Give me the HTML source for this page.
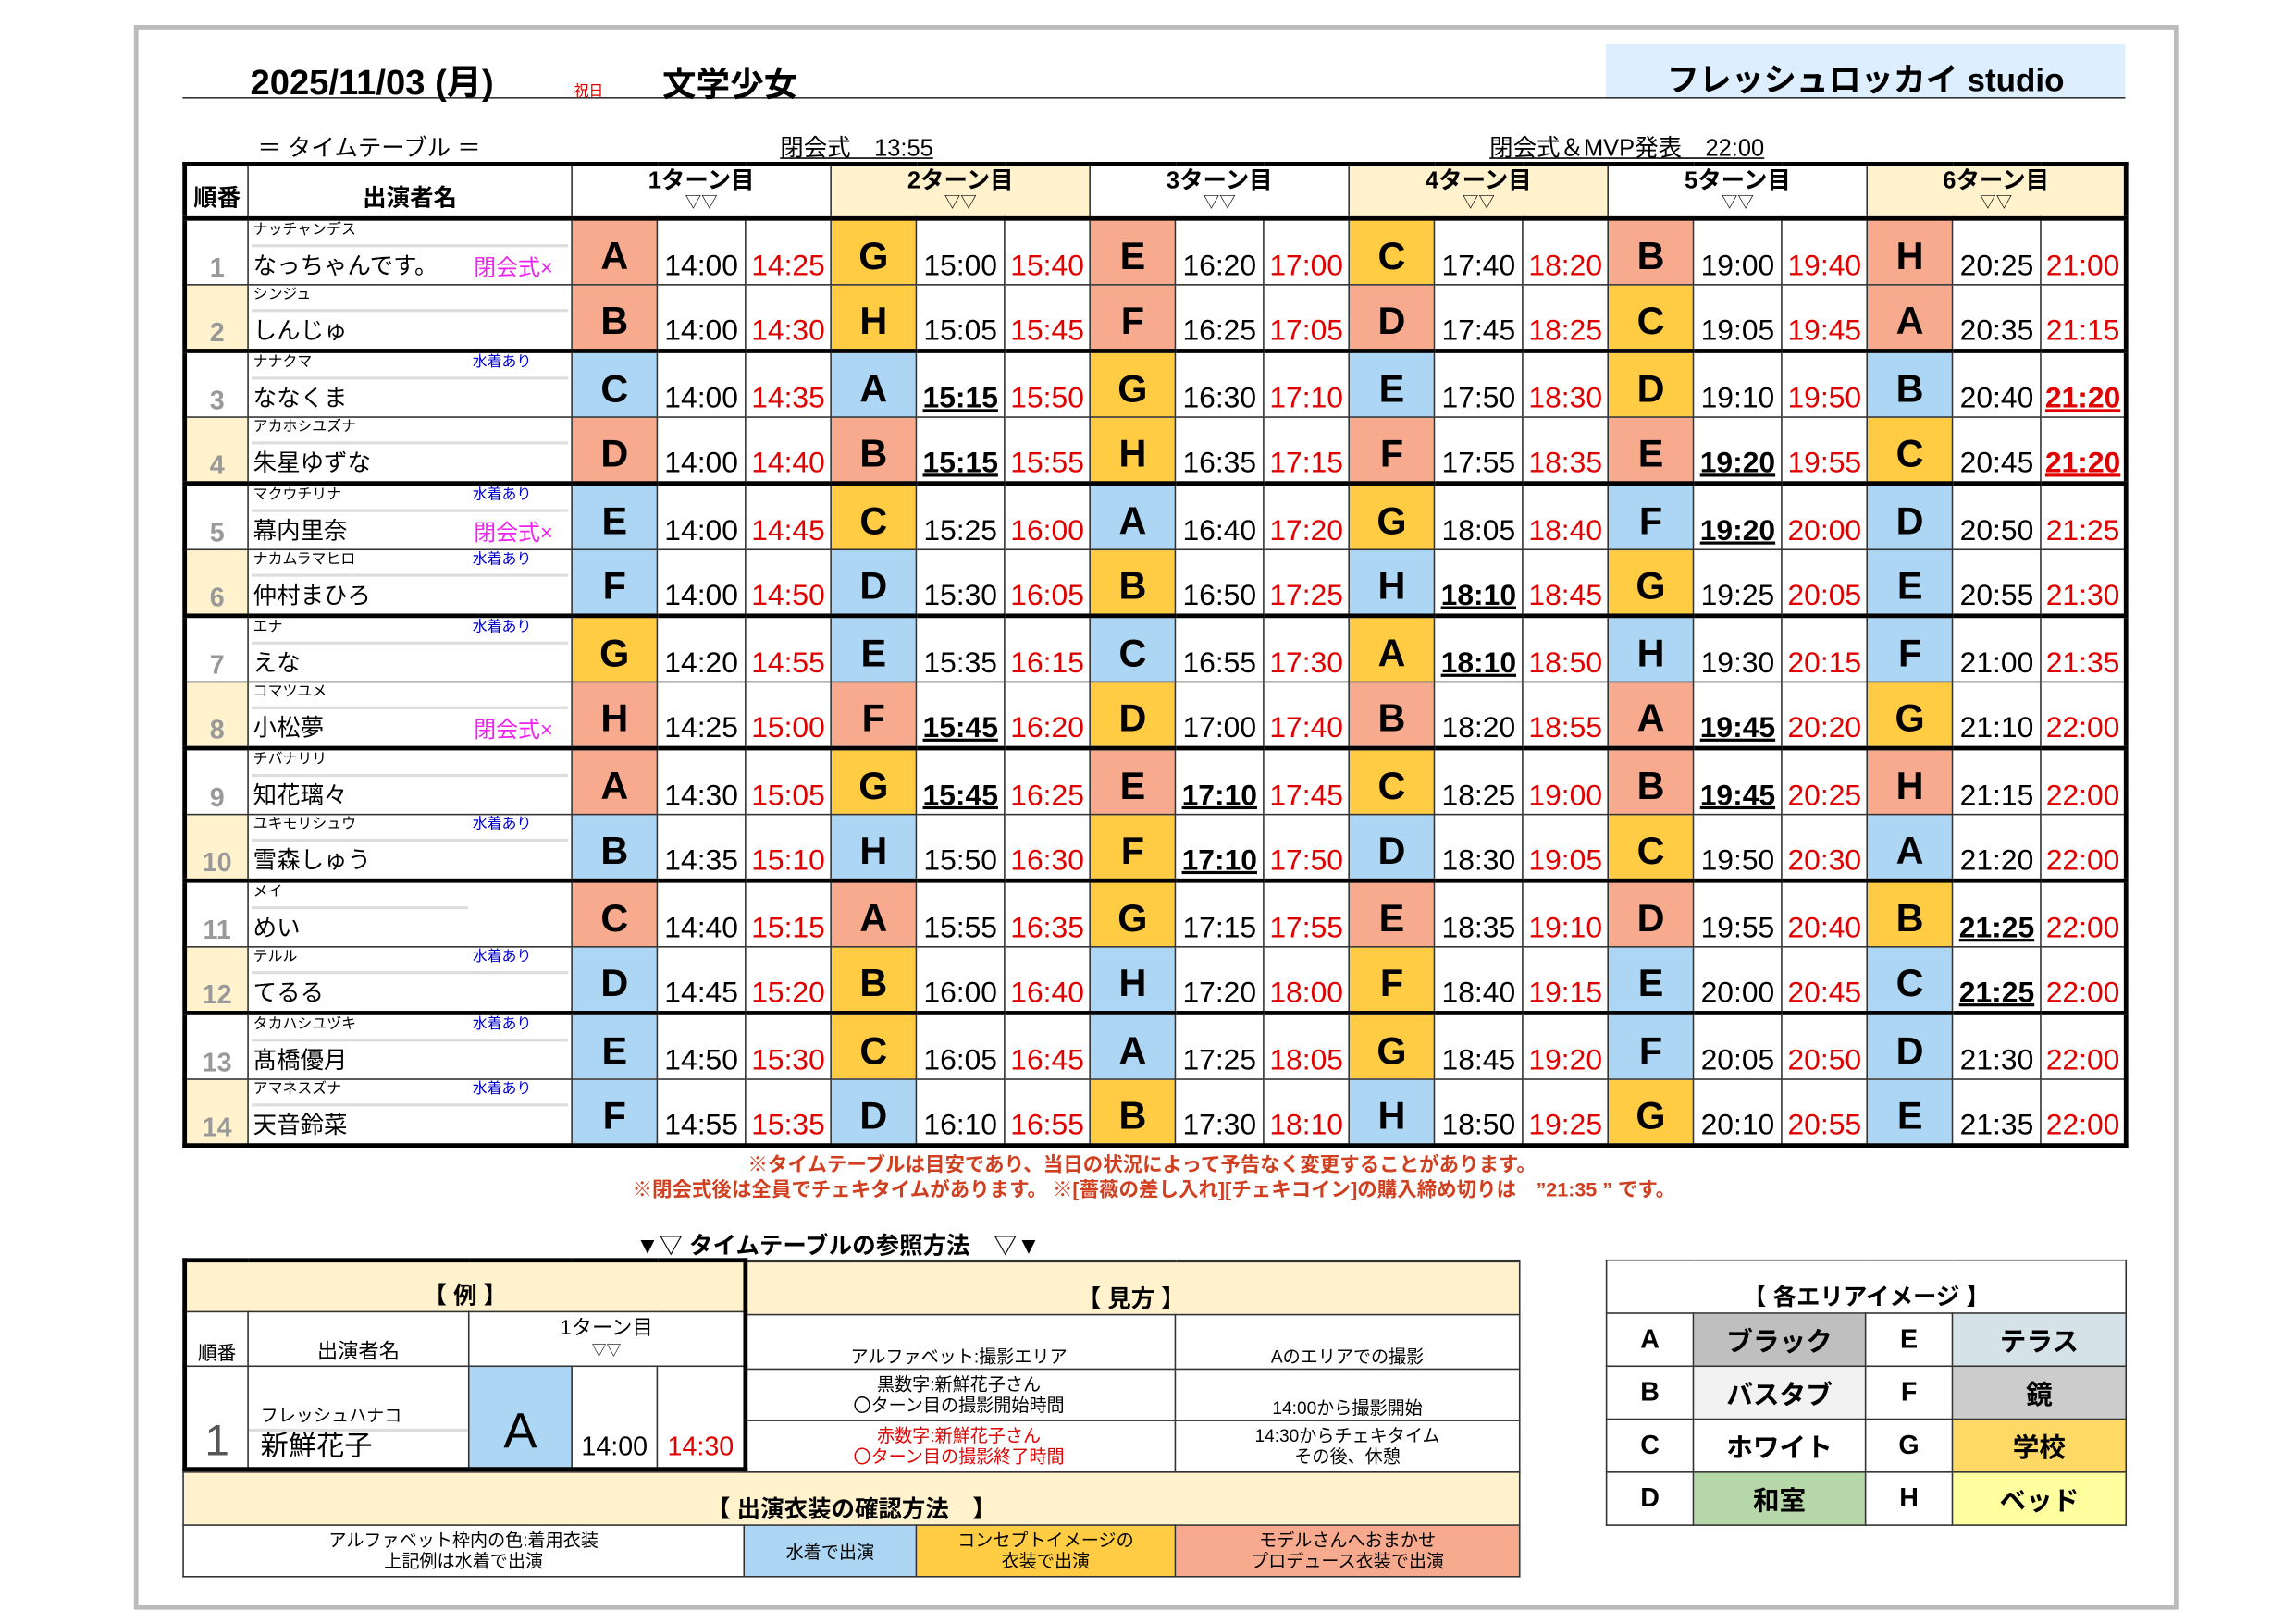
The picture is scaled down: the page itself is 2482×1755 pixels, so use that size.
<!DOCTYPE html>
<html><head><meta charset="utf-8">
<style>
html,body{margin:0;padding:0;background:#fff;}
body{width:2482px;height:1755px;overflow:hidden;position:relative;}
#w{position:absolute;left:0;top:0;width:1560px;height:1103px;transform:scale(1.59103);transform-origin:0 0;font-family:"Liberation Sans","Noto Sans CJK JP",sans-serif;color:#000;}
.a{position:absolute;white-space:nowrap;}
table{border-collapse:collapse;table-layout:fixed;position:absolute;}
td{padding:0;border:1px solid #333;text-align:center;overflow:hidden;white-space:nowrap;}
table.m{left:124px;top:110px;width:1320px;border:3px solid #000;}
tr.h{height:37px;}
tr.h td{border-bottom:3px solid #000;vertical-align:top;font-weight:bold;font-size:16px;line-height:18px;padding-top:2px;}
tr.h td small{display:block;font-size:11px;font-weight:normal;line-height:11px;}
tr.r{height:45px;}
tr.p td{border-top:3px solid #000;}
td.n{font-weight:bold;font-size:18px;line-height:20px;color:#999;vertical-align:bottom;padding-bottom:1px;}
tr.ev td.n{background:#fff2cc;}
td.nm{text-align:left;vertical-align:top;}
.nw{position:relative;height:42px;}
.k{position:absolute;left:3px;top:1px;font-size:10px;line-height:12px;}
.ln{position:absolute;left:2px;right:2px;top:16px;border-top:2px solid #ddd;}
.nn{position:absolute;left:3px;bottom:0;font-size:16px;line-height:20px;}
.sw{position:absolute;left:152px;top:1px;font-size:10px;line-height:12px;color:#0000cc;}
.cl{position:absolute;left:153px;bottom:0;font-size:15px;line-height:19px;color:#ee22ee;}
td.L{font-weight:bold;font-size:26px;vertical-align:bottom;padding-bottom:4px;line-height:30px;}
td.t,td.e{font-size:20px;vertical-align:bottom;padding-bottom:0;line-height:23px;}
td.e{color:#e00000;}
.u{font-weight:bold;text-decoration:underline;text-decoration-thickness:2px;}
.s{background:#f8aa8f;}.g{background:#ffcc44;}.b{background:#acd6f4;}.y{background:#fff2cc;}
table.x td{font-size:12px;}
</style></head><body><div id="w">
<div class="a" style="left:91px;top:17px;width:1383px;height:1071px;border:3px solid #bbb;"></div>
<div class="a" style="left:1091px;top:30px;width:353px;height:37px;background:#ddeeff;"></div>
<div class="a" style="left:124px;top:66px;width:1320px;border-top:1.5px solid #333;"></div>
<div class="a" style="left:170px;top:36px;font-size:24px;font-weight:bold;">2025/11/03 (月)</div>
<div class="a" style="left:390px;top:53px;font-size:10px;color:#d00;">祝日</div>
<div class="a" style="left:450px;top:38px;font-size:23px;font-weight:bold;">文学少女</div>
<div class="a" style="left:1091px;width:353px;top:37px;text-align:center;font-size:22px;font-weight:bold;">フレッシュロッカイ studio</div>
<div class="a" style="left:175px;top:87px;font-size:16px;">＝ タイムテーブル ＝</div>
<div class="a" style="left:530px;top:87px;font-size:16px;text-decoration:underline;">閉会式　13:55</div>
<div class="a" style="left:1012px;top:87px;font-size:16px;text-decoration:underline;">閉会式＆MVP発表　22:00</div>

<table class="m">
<colgroup><col style="width:43px"><col style="width:220px"><col style="width:58px"><col style="width:60px"><col style="width:58px"><col style="width:58px"><col style="width:60px"><col style="width:58px"><col style="width:58px"><col style="width:60px"><col style="width:58px"><col style="width:58px"><col style="width:60px"><col style="width:58px"><col style="width:58px"><col style="width:60px"><col style="width:58px"><col style="width:58px"><col style="width:60px"><col style="width:58px"></colgroup>
<tr class="h"><td style="vertical-align:bottom;padding-bottom:2px">順番</td><td style="vertical-align:bottom;padding-bottom:2px">出演者名</td><td colspan="3">1ターン目<small>▽▽</small></td><td colspan="3" class="y">2ターン目<small>▽▽</small></td><td colspan="3">3ターン目<small>▽▽</small></td><td colspan="3" class="y">4ターン目<small>▽▽</small></td><td colspan="3">5ターン目<small>▽▽</small></td><td colspan="3" class="y">6ターン目<small>▽▽</small></td></tr>

<tr class="r"><td class="n">1</td><td class="nm"><div class="nw"><div class="k">ナッチャンデス</div><div class="ln"></div><div class="nn">なっちゃんです。</div><div class="cl">閉会式×</div></div></td>
<td class="L s">A</td><td class="t">14:00</td><td class="e">14:25</td><td class="L g">G</td><td class="t">15:00</td><td class="e">15:40</td><td class="L s">E</td><td class="t">16:20</td><td class="e">17:00</td><td class="L g">C</td><td class="t">17:40</td><td class="e">18:20</td><td class="L s">B</td><td class="t">19:00</td><td class="e">19:40</td><td class="L s">H</td><td class="t">20:25</td><td class="e">21:00</td></tr>

<tr class="r ev"><td class="n">2</td><td class="nm"><div class="nw"><div class="k">シンジュ</div><div class="ln"></div><div class="nn">しんじゅ</div></div></td>
<td class="L s">B</td><td class="t">14:00</td><td class="e">14:30</td><td class="L g">H</td><td class="t">15:05</td><td class="e">15:45</td><td class="L s">F</td><td class="t">16:25</td><td class="e">17:05</td><td class="L s">D</td><td class="t">17:45</td><td class="e">18:25</td><td class="L g">C</td><td class="t">19:05</td><td class="e">19:45</td><td class="L s">A</td><td class="t">20:35</td><td class="e">21:15</td></tr>

<tr class="r p"><td class="n">3</td><td class="nm"><div class="nw"><div class="k">ナナクマ</div><div class="sw">水着あり</div><div class="ln"></div><div class="nn">ななくま</div></div></td>
<td class="L b">C</td><td class="t">14:00</td><td class="e">14:35</td><td class="L b">A</td><td class="t"><span class="u">15:15</span></td><td class="e">15:50</td><td class="L g">G</td><td class="t">16:30</td><td class="e">17:10</td><td class="L b">E</td><td class="t">17:50</td><td class="e">18:30</td><td class="L g">D</td><td class="t">19:10</td><td class="e">19:50</td><td class="L b">B</td><td class="t">20:40</td><td class="e"><span class="u">21:20</span></td></tr>

<tr class="r ev"><td class="n">4</td><td class="nm"><div class="nw"><div class="k">アカホシユズナ</div><div class="ln"></div><div class="nn">朱星ゆずな</div></div></td>
<td class="L s">D</td><td class="t">14:00</td><td class="e">14:40</td><td class="L s">B</td><td class="t"><span class="u">15:15</span></td><td class="e">15:55</td><td class="L g">H</td><td class="t">16:35</td><td class="e">17:15</td><td class="L s">F</td><td class="t">17:55</td><td class="e">18:35</td><td class="L s">E</td><td class="t"><span class="u">19:20</span></td><td class="e">19:55</td><td class="L g">C</td><td class="t">20:45</td><td class="e"><span class="u">21:20</span></td></tr>

<tr class="r p"><td class="n">5</td><td class="nm"><div class="nw"><div class="k">マクウチリナ</div><div class="sw">水着あり</div><div class="ln"></div><div class="nn">幕内里奈</div><div class="cl">閉会式×</div></div></td>
<td class="L b">E</td><td class="t">14:00</td><td class="e">14:45</td><td class="L g">C</td><td class="t">15:25</td><td class="e">16:00</td><td class="L b">A</td><td class="t">16:40</td><td class="e">17:20</td><td class="L g">G</td><td class="t">18:05</td><td class="e">18:40</td><td class="L b">F</td><td class="t"><span class="u">19:20</span></td><td class="e">20:00</td><td class="L b">D</td><td class="t">20:50</td><td class="e">21:25</td></tr>

<tr class="r ev"><td class="n">6</td><td class="nm"><div class="nw"><div class="k">ナカムラマヒロ</div><div class="sw">水着あり</div><div class="ln"></div><div class="nn">仲村まひろ</div></div></td>
<td class="L b">F</td><td class="t">14:00</td><td class="e">14:50</td><td class="L b">D</td><td class="t">15:30</td><td class="e">16:05</td><td class="L g">B</td><td class="t">16:50</td><td class="e">17:25</td><td class="L b">H</td><td class="t"><span class="u">18:10</span></td><td class="e">18:45</td><td class="L g">G</td><td class="t">19:25</td><td class="e">20:05</td><td class="L b">E</td><td class="t">20:55</td><td class="e">21:30</td></tr>

<tr class="r p"><td class="n">7</td><td class="nm"><div class="nw"><div class="k">エナ</div><div class="sw">水着あり</div><div class="ln"></div><div class="nn">えな</div></div></td>
<td class="L g">G</td><td class="t">14:20</td><td class="e">14:55</td><td class="L b">E</td><td class="t">15:35</td><td class="e">16:15</td><td class="L b">C</td><td class="t">16:55</td><td class="e">17:30</td><td class="L g">A</td><td class="t"><span class="u">18:10</span></td><td class="e">18:50</td><td class="L b">H</td><td class="t">19:30</td><td class="e">20:15</td><td class="L b">F</td><td class="t">21:00</td><td class="e">21:35</td></tr>

<tr class="r ev"><td class="n">8</td><td class="nm"><div class="nw"><div class="k">コマツユメ</div><div class="ln"></div><div class="nn">小松夢</div><div class="cl">閉会式×</div></div></td>
<td class="L s">H</td><td class="t">14:25</td><td class="e">15:00</td><td class="L s">F</td><td class="t"><span class="u">15:45</span></td><td class="e">16:20</td><td class="L g">D</td><td class="t">17:00</td><td class="e">17:40</td><td class="L s">B</td><td class="t">18:20</td><td class="e">18:55</td><td class="L s">A</td><td class="t"><span class="u">19:45</span></td><td class="e">20:20</td><td class="L g">G</td><td class="t">21:10</td><td class="e">22:00</td></tr>

<tr class="r p"><td class="n">9</td><td class="nm"><div class="nw"><div class="k">チバナリリ</div><div class="ln"></div><div class="nn">知花璃々</div></div></td>
<td class="L s">A</td><td class="t">14:30</td><td class="e">15:05</td><td class="L g">G</td><td class="t"><span class="u">15:45</span></td><td class="e">16:25</td><td class="L s">E</td><td class="t"><span class="u">17:10</span></td><td class="e">17:45</td><td class="L g">C</td><td class="t">18:25</td><td class="e">19:00</td><td class="L s">B</td><td class="t"><span class="u">19:45</span></td><td class="e">20:25</td><td class="L s">H</td><td class="t">21:15</td><td class="e">22:00</td></tr>

<tr class="r ev"><td class="n">10</td><td class="nm"><div class="nw"><div class="k">ユキモリシュウ</div><div class="sw">水着あり</div><div class="ln"></div><div class="nn">雪森しゅう</div></div></td>
<td class="L b">B</td><td class="t">14:35</td><td class="e">15:10</td><td class="L b">H</td><td class="t">15:50</td><td class="e">16:30</td><td class="L g">F</td><td class="t"><span class="u">17:10</span></td><td class="e">17:50</td><td class="L b">D</td><td class="t">18:30</td><td class="e">19:05</td><td class="L g">C</td><td class="t">19:50</td><td class="e">20:30</td><td class="L b">A</td><td class="t">21:20</td><td class="e">22:00</td></tr>

<tr class="r p"><td class="n">11</td><td class="nm"><div class="nw"><div class="k">メイ</div><div class="ln" style="right:70px"></div><div class="nn">めい</div></div></td>
<td class="L s">C</td><td class="t">14:40</td><td class="e">15:15</td><td class="L s">A</td><td class="t">15:55</td><td class="e">16:35</td><td class="L g">G</td><td class="t">17:15</td><td class="e">17:55</td><td class="L s">E</td><td class="t">18:35</td><td class="e">19:10</td><td class="L s">D</td><td class="t">19:55</td><td class="e">20:40</td><td class="L g">B</td><td class="t"><span class="u">21:25</span></td><td class="e">22:00</td></tr>

<tr class="r ev"><td class="n">12</td><td class="nm"><div class="nw"><div class="k">テルル</div><div class="sw">水着あり</div><div class="ln"></div><div class="nn">てるる</div></div></td>
<td class="L b">D</td><td class="t">14:45</td><td class="e">15:20</td><td class="L g">B</td><td class="t">16:00</td><td class="e">16:40</td><td class="L b">H</td><td class="t">17:20</td><td class="e">18:00</td><td class="L g">F</td><td class="t">18:40</td><td class="e">19:15</td><td class="L b">E</td><td class="t">20:00</td><td class="e">20:45</td><td class="L b">C</td><td class="t"><span class="u">21:25</span></td><td class="e">22:00</td></tr>

<tr class="r p"><td class="n">13</td><td class="nm"><div class="nw"><div class="k">タカハシユヅキ</div><div class="sw">水着あり</div><div class="ln"></div><div class="nn">髙橋優月</div></div></td>
<td class="L b">E</td><td class="t">14:50</td><td class="e">15:30</td><td class="L g">C</td><td class="t">16:05</td><td class="e">16:45</td><td class="L b">A</td><td class="t">17:25</td><td class="e">18:05</td><td class="L g">G</td><td class="t">18:45</td><td class="e">19:20</td><td class="L b">F</td><td class="t">20:05</td><td class="e">20:50</td><td class="L b">D</td><td class="t">21:30</td><td class="e">22:00</td></tr>

<tr class="r ev"><td class="n">14</td><td class="nm"><div class="nw"><div class="k">アマネスズナ</div><div class="sw">水着あり</div><div class="ln"></div><div class="nn">天音鈴菜</div></div></td>
<td class="L b">F</td><td class="t">14:55</td><td class="e">15:35</td><td class="L b">D</td><td class="t">16:10</td><td class="e">16:55</td><td class="L g">B</td><td class="t">17:30</td><td class="e">18:10</td><td class="L b">H</td><td class="t">18:50</td><td class="e">19:25</td><td class="L g">G</td><td class="t">20:10</td><td class="e">20:55</td><td class="L b">E</td><td class="t">21:35</td><td class="e">22:00</td></tr>
</table>

<div class="a" style="left:0;width:1552px;top:780px;text-align:center;font-size:13.5px;font-weight:bold;color:#d04020;">※タイムテーブルは目安であり、当日の状況によって予告なく変更することがあります。</div>
<div class="a" style="left:0;width:1568px;top:797px;text-align:center;font-size:13.5px;font-weight:bold;color:#d04020;">※閉会式後は全員でチェキタイムがあります。 ※[薔薇の差し入れ][チェキコイン]の購入締め切りは　”21:35 ” です。</div>
<div class="a" style="left:432px;top:833px;font-size:16px;font-weight:bold;">▼▽ タイムテーブルの参照方法　▽▼</div>

<table class="x" style="left:504px;top:856px;width:528px;border-top:2px solid #333;">
<colgroup><col style="width:294px"><col style="width:234px"></colgroup>
<tr><td class="y" colspan="2" style="height:35px;font-size:16px;font-weight:bold;vertical-align:bottom;">【 見方 】</td></tr>
<tr><td style="height:36px;vertical-align:bottom;">アルファベット:撮影エリア</td><td style="vertical-align:bottom;">Aのエリアでの撮影</td></tr>
<tr><td style="height:34px;line-height:14px;">黒数字:新鮮花子さん<br>〇ターン目の撮影開始時間</td><td style="vertical-align:bottom;">14:00から撮影開始</td></tr>
<tr><td style="height:34px;line-height:14px;color:#e00000;">赤数字:新鮮花子さん<br>〇ターン目の撮影終了時間</td><td style="line-height:14px;">14:30からチェキタイム<br>その後、休憩</td></tr>
</table>
<table class="x" style="left:124px;top:1000px;width:908px;">
<colgroup><col style="width:381px"><col style="width:117px"><col style="width:176px"><col style="width:234px"></colgroup>
<tr><td class="y" colspan="4" style="height:35px;font-size:16px;font-weight:bold;vertical-align:bottom;">【 出演衣装の確認方法　】</td></tr>
<tr><td style="height:34px;line-height:14px;">アルファベット枠内の色:着用衣装<br>上記例は水着で出演</td><td class="b">水着で出演</td><td class="g" style="line-height:14px;">コンセプトイメージの<br>衣装で出演</td><td class="s" style="line-height:14px;">モデルさんへおまかせ<br>プロデュース衣装で出演</td></tr>
</table>
<table style="left:124px;top:855px;width:381px;border:3px solid #000;background:#fff;">
<colgroup><col style="width:43px"><col style="width:150px"><col style="width:70px"><col style="width:58px"><col style="width:60px"></colgroup>
<tr><td class="y" colspan="5" style="height:33px;font-size:16px;font-weight:bold;vertical-align:bottom;">【 例 】</td></tr>
<tr><td style="height:36px;font-size:13px;vertical-align:bottom;">順番</td><td style="font-size:14px;vertical-align:bottom;">出演者名</td><td colspan="3" style="font-size:14px;line-height:14px;">1ターン目<br><span style="font-size:10px">▽▽</span></td></tr>
<tr><td style="height:68px;font-size:30px;color:#555;vertical-align:bottom;">1</td><td style="text-align:left;vertical-align:top;"><div style="position:relative;height:68px;"><div style="position:absolute;left:8px;top:24px;font-size:12px;">フレッシュハナコ</div><div style="position:absolute;left:0;right:0;top:42px;border-top:2px solid #ddd;"></div><div style="position:absolute;left:8px;bottom:2px;font-size:19px;">新鮮花子</div></div></td><td class="b" style="font-size:34px;vertical-align:bottom;padding-bottom:4px;">A</td><td style="font-size:18px;vertical-align:bottom;padding-bottom:3px;">14:00</td><td style="font-size:18px;color:#e00000;vertical-align:bottom;padding-bottom:3px;">14:30</td></tr>
</table>

<table style="left:1091px;top:856px;width:353px;">
<colgroup><col style="width:59px"><col style="width:117px"><col style="width:59px"><col style="width:118px"></colgroup>
<tr><td colspan="4" style="height:35px;font-size:16px;font-weight:bold;vertical-align:bottom;">【 各エリアイメージ 】</td></tr>
<tr style="font-size:18px;font-weight:bold;"><td style="height:35px;">A</td><td style="background:#bfbfbf;">ブラック</td><td>E</td><td style="background:#d5e3e8;">テラス</td></tr>
<tr style="font-size:18px;font-weight:bold;"><td style="height:35px;">B</td><td style="background:#f2f2f2;">バスタブ</td><td>F</td><td style="background:#cccccc;">鏡</td></tr>
<tr style="font-size:18px;font-weight:bold;"><td style="height:35px;">C</td><td>ホワイト</td><td>G</td><td style="background:#ffd966;">学校</td></tr>
<tr style="font-size:18px;font-weight:bold;"><td style="height:35px;">D</td><td style="background:#b6d7a8;">和室</td><td>H</td><td style="background:#ffffa0;">ベッド</td></tr>
</table>
</div></body></html>
